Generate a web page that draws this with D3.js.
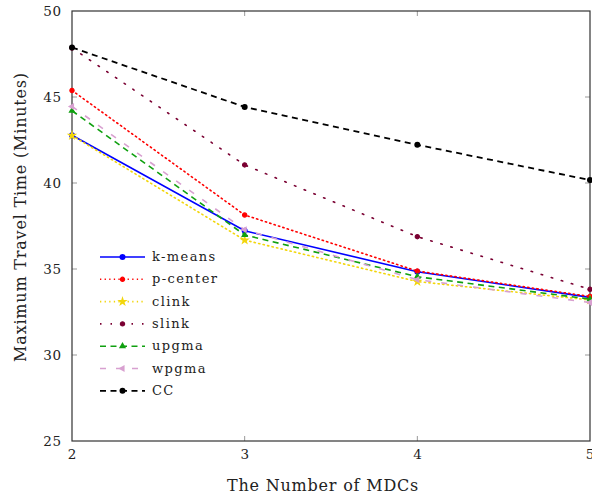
<!DOCTYPE html>
<html><head><meta charset="utf-8">
<script src="https://cdn.jsdelivr.net/npm/d3@7"></script>
<style>body{margin:0;background:#fff}svg{display:block}text{font-family:"DejaVu Serif",serif;fill:#222}</style>
</head><body><svg id="c" width="592" height="500"></svg>
<script>
const xValues = [2, 3, 4, 5];
const yTicks = [25, 30, 35, 40, 45, 50];
const seriesNames = ["k-means", "p-center", "clink", "slink", "upgma", "wpgma", "CC"];
const kmeans  = [42.78, 37.22, 34.84, 33.35];
const pcenter = [45.38, 38.14, 34.88, 33.40];
const clink   = [42.76, 36.68, 34.27, 33.20];
const slink   = [47.85, 41.05, 36.88, 33.82];
const upgma   = [44.20, 36.98, 34.55, 33.25];
const wpgma   = [44.45, 37.28, 34.38, 33.05];
const cc      = [47.88, 44.42, 42.22, 40.17];
const seriesValues = [kmeans, pcenter, clink, slink, upgma, wpgma, cc];
const xLabel = "The Number of MDCs";
const yLabel = "Maximum Travel Time (Minutes)";

const styles = [
  {color:"#0000ff", dash:null, width:1.6, marker:"circle"},
  {color:"#ff0000", dash:"1.3,3.3", width:1.6, marker:"asterisk"},
  {color:"#f2d60c", dash:"1.3,3.3", width:1.6, marker:"star"},
  {color:"#7a0032", dash:"1.5,9", width:1.6, marker:"asterisk"},
  {color:"#10a010", dash:"6,4.5", width:1.6, marker:"triangle"},
  {color:"#d8a0d0", dash:"6,10", width:1.6, marker:"triangleLeft"},
  {color:"#000000", dash:"6,4.5", width:1.8, marker:"circle"}
];

const svg = d3.select("#c");
const L = 72, R = 590, T = 11, B = 441;
const x = d3.scaleLinear().domain([2,5]).range([L,R]);
const y = d3.scaleLinear().domain([25,50]).range([B,T]);

// inner ticks
const g = svg.append("g");
const tl = 5;
yTicks.slice(1,-1).forEach(v=>{
  g.append("line").attr("x1",L).attr("x2",L+tl).attr("y1",y(v)).attr("y2",y(v)).attr("stroke","#999").attr("stroke-width",1);
  g.append("line").attr("x1",R-tl).attr("x2",R).attr("y1",y(v)).attr("y2",y(v)).attr("stroke","#999").attr("stroke-width",1);
});
xValues.slice(1,-1).forEach(v=>{
  g.append("line").attr("x1",x(v)).attr("x2",x(v)).attr("y1",B).attr("y2",B-tl).attr("stroke","#999").attr("stroke-width",1);
  g.append("line").attr("x1",x(v)).attr("x2",x(v)).attr("y1",T).attr("y2",T+tl).attr("stroke","#999").attr("stroke-width",1);
});

// axes via d3
const xAxis = d3.axisBottom(x).tickValues(xValues).tickSize(0).tickPadding(8).tickFormat(d3.format("d"));
const yAxis = d3.axisLeft(y).tickValues(yTicks).tickSize(0).tickPadding(10).tickFormat(d3.format("d"));
const gx = svg.append("g").attr("transform",`translate(0,${B})`).call(xAxis);
const gy = svg.append("g").attr("transform",`translate(${L},0)`).call(yAxis);
[gx,gy].forEach(a=>{a.select(".domain").remove(); a.selectAll("text").style("font-family","'DejaVu Serif',serif").style("font-size","13.5px").style("letter-spacing","0.8px").attr("fill","#222");});

// frame
svg.append("rect").attr("x",L).attr("y",T).attr("width",R-L).attr("height",B-T).attr("fill","none").attr("stroke","#333").attr("stroke-width",1.2);

const line = d3.line().x((d,i)=>x(xValues[i])).y(d=>y(d));

function drawMarker(sel, type, cx, cy, color){
  const s = sel.append("g").attr("transform",`translate(${cx},${cy})`);
  if(type==="circle") s.append("circle").attr("r",3).attr("fill",color);
  else if(type==="star") s.append("path").attr("d",d3.symbol(d3.symbolStar,34)()).attr("fill",color);
  else if(type==="asterisk") s.append("path").attr("d",d3.symbol(d3.symbolCircle,14)()).attr("fill",color).attr("stroke",color).attr("stroke-width",1.2);
  else if(type==="triangle") s.append("path").attr("d",d3.symbol(d3.symbolTriangle,22)()).attr("fill",color);
  else if(type==="triangleLeft") s.append("path").attr("d",d3.symbol(d3.symbolTriangle,22)()).attr("transform","rotate(-90)").attr("fill",color);
}

seriesValues.forEach((vals,k)=>{
  const st = styles[k];
  svg.append("path").datum(vals).attr("d",line).attr("fill","none")
    .attr("stroke",st.color).attr("stroke-width",st.width)
    .attr("stroke-dasharray",st.dash).attr("stroke-linecap",st.dash && st.dash.startsWith("1.")?"round":"butt");
  vals.forEach((v,i)=>drawMarker(svg, st.marker, x(xValues[i]), y(v), st.color));
});

// legend
const lg = svg.append("g");
const ly0 = 257, lstep = 22.3;
seriesNames.forEach((n,k)=>{
  const st = styles[k], yy = ly0 + k*lstep;
  lg.append("line").attr("x1",100).attr("x2",145).attr("y1",yy).attr("y2",yy)
    .attr("stroke",st.color).attr("stroke-width",st.width).attr("stroke-dasharray",st.dash);
  drawMarker(lg, st.marker, 122.5, yy, st.color);
  lg.append("text").attr("x",152).attr("y",yy+4).style("font-size","13px").style("letter-spacing","1.4px").text(n);
});

svg.append("text").attr("x",(L+R)/2 - 8).attr("y",491).attr("text-anchor","middle").style("font-size","16px").style("letter-spacing","0.8px").text(xLabel);
svg.append("text").attr("transform","translate(26,217) rotate(-90)").attr("text-anchor","middle").style("font-size","16px").style("letter-spacing","0.8px").text(yLabel);
</script></body></html>
